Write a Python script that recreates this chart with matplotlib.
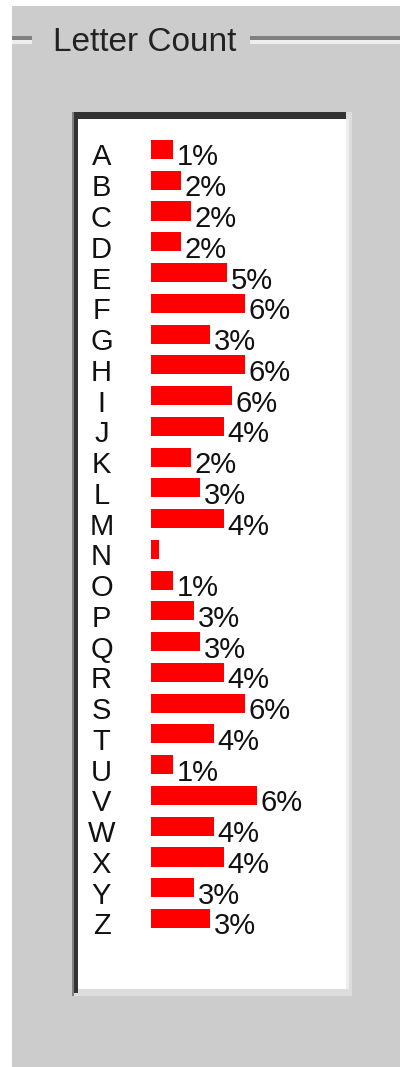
import matplotlib
matplotlib.use("Agg")
import matplotlib.pyplot as plt
from matplotlib.patches import Rectangle

letters = list("ABCDEFGHIJKLMNOPQRSTUVWXYZ")
# letter share in percent
percent = [1.43, 1.98, 2.64, 1.98, 4.99, 6.2, 3.89, 6.2, 5.34, 4.81, 2.64, 3.23, 4.81,
           0.53, 1.45, 2.83, 3.23, 4.81, 6.2, 4.15, 1.45, 6.99, 4.15, 4.81, 2.83, 3.89]
labels = ["1%", "2%", "2%", "2%", "5%", "6%", "3%", "6%", "6%", "4%", "2%", "3%", "4%",
          "", "1%", "3%", "3%", "4%", "6%", "4%", "1%", "6%", "4%", "4%", "3%", "3%"]
title = "Letter Count"

W, H = 400, 1067
fonts = ["Liberation Sans", "DejaVu Sans"]

fig = plt.figure(figsize=(W / 100, H / 100), dpi=100)
fig.patch.set_facecolor("white")

# background panel drawn in pixel coordinates
bg = fig.add_axes([0, 0, 1, 1])
bg.set_xlim(0, W)
bg.set_ylim(H, 0)
bg.axis("off")


def box(x0, y0, x1, y1, color):
    bg.add_patch(Rectangle((x0, y0), x1 - x0, y1 - y0, facecolor=color,
                           edgecolor="none", linewidth=0))


box(12, 6, W, H, "#cccccc")
# etched title line
box(12, 36, 32, 40, "#808080")
box(12, 40, 32, 44, "#eeeeee")
box(250, 36, W, 40, "#808080")
box(250, 40, W, 44, "#eeeeee")
bg.text(53, 51, title, fontsize=24, family=fonts, color="#222222", va="baseline", ha="left")

# sunken white panel
box(72, 112, 352, 996, "#dddddd")
box(346, 119, 349, 989, "#eeeeee")
box(72, 112, 346, 119, "#333333")
box(72, 112, 74, 996, "#808080")
box(74, 119, 78, 993, "#333333")
box(78, 119, 346, 989, "white")

# chart axes covering the white interior
px_per_pct = 15.17
bar_x0 = 151
row0, pitch = 149.5, 30.76
left, right, top, bottom = 78, 346, 119, 989
ax = fig.add_axes([left / W, (H - bottom) / H, (right - left) / W, (bottom - top) / H])
ax.set_xlim(-(bar_x0 - left) / px_per_pct, (right - bar_x0) / px_per_pct)
ax.set_ylim((bottom - row0) / pitch, (top - row0) / pitch)
ax.axis("off")

rows = range(len(letters))
ax.barh(rows, percent, height=0.62, left=0, color="#ff0000", edgecolor="none")

letter_x = (101.5 - bar_x0) / px_per_pct
for i, (ch, val, lab) in enumerate(zip(letters, percent, labels)):
    ax.text(letter_x, i + 0.52, ch, fontsize=21, family=fonts, ha="center",
            va="baseline", color="#111111")
    if lab:
        ax.text(val + 0.25, i + 0.52, lab, fontsize=21, family=fonts, ha="left",
                va="baseline", color="#111111")

fig.savefig("out.png", dpi=100, facecolor=fig.get_facecolor())
